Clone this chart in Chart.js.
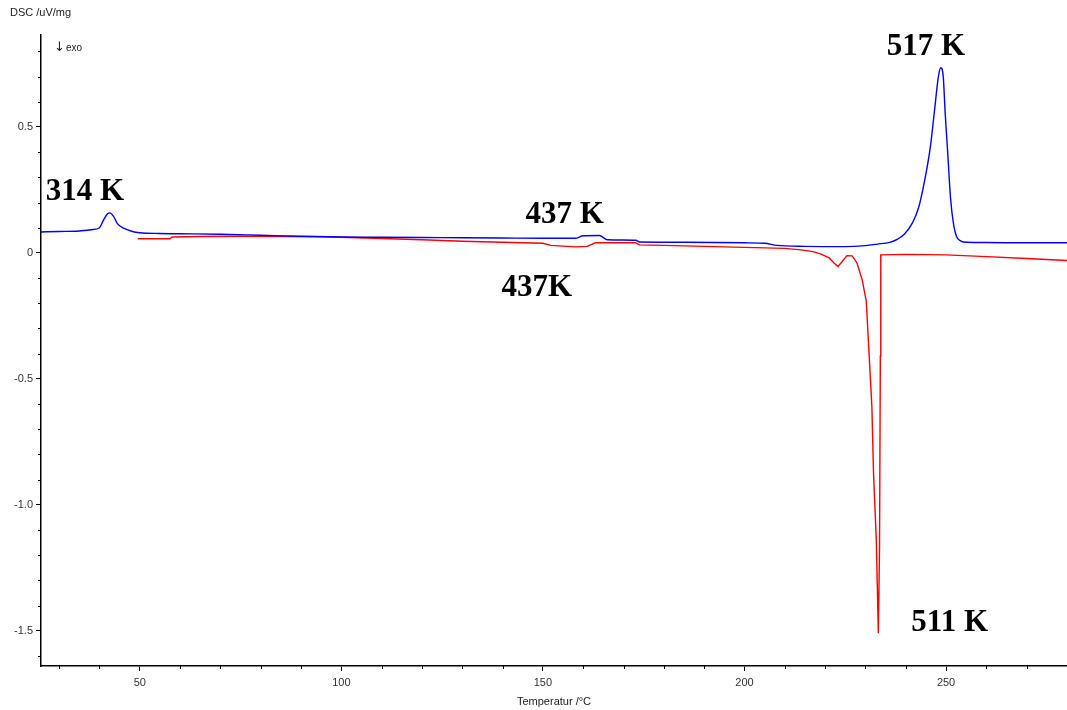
<!DOCTYPE html>
<html>
<head>
<meta charset="utf-8">
<script src="https://cdn.jsdelivr.net/npm/chart.js@4"></script>
<style>
  body { margin: 0; background: #fff; }
  #graph { display: block; }
</style>
</head>
<body>
<canvas id="graph" width="1067" height="710"></canvas>
<script>
// heating run (blue)
const heatTemp = [25.5, 30, 35, 38, 40, 41, 42, 42.6, 43.5, 44.5, 46, 48, 50, 55, 60, 70, 80, 90, 100, 110, 120, 130, 140, 150, 158,
  160, 164, 166, 173, 174, 185, 200, 205, 208, 215, 225, 230, 233, 236, 238, 239.7, 241.7, 243.2, 244.6, 246.1, 247.1, 248.1, 248.7,
  249.3, 249.8, 250.4, 251.1, 251.8, 252.6, 253.6, 255.1, 260, 270, 280];
const heatDsc = [0.083, 0.085, 0.087, 0.092, 0.100, 0.130, 0.155, 0.159, 0.145, 0.115, 0.098, 0.086, 0.080, 0.077, 0.076, 0.074, 0.070, 0.066, 0.063, 0.062, 0.061, 0.060, 0.059, 0.058, 0.058,
  0.068, 0.069, 0.052, 0.050, 0.043, 0.042, 0.040, 0.038, 0.030, 0.026, 0.025, 0.029, 0.035, 0.042, 0.055, 0.075, 0.12, 0.18, 0.28, 0.42, 0.56, 0.70, 0.735,
  0.70, 0.55, 0.40, 0.22, 0.12, 0.065, 0.048, 0.042, 0.041, 0.040, 0.040];

// cooling run (red)
const coolTemp = [49.5, 57.5, 58, 65, 75, 85, 95, 100, 110, 120, 130, 140, 150, 152, 158, 161, 163, 173, 174, 180, 190, 200, 210, 214, 217,
  219, 221, 222.2, 223.2, 224.2, 225.4, 226.7, 227.9, 229.2, 230.2, 230.7, 231.6, 232.0, 232.7, 233.2, 233.5, 233.7, 233.8, 240, 250, 260, 270, 280];
const coolDsc = [0.056, 0.056, 0.063, 0.065, 0.066, 0.065, 0.064, 0.062, 0.057, 0.052, 0.046, 0.042, 0.038, 0.030, 0.024, 0.026, 0.040, 0.040, 0.032, 0.030, 0.026, 0.022, 0.018, 0.012, 0.005,
  -0.005, -0.020, -0.040, -0.054, -0.035, -0.011, -0.012, -0.040, -0.107, -0.19, -0.34, -0.61, -0.87, -1.14, -1.51, -1.17, -0.41, -0.008, -0.006, -0.008, -0.015, -0.022, -0.030];

const xTicks = [50, 100, 150, 200, 250];
const yTicks = [-1.5, -1.0, -0.5, 0, 0.5];

// peak labels
const peakText = ['314 K', '437 K', '437K', '517 K', '511 K'];
const peakTemp = [36.4, 155.4, 148.5, 245.0, 250.9];
const peakDsc = [0.242, 0.151, -0.139, 0.817, -1.468];

const toPoints = (xs, ys) => xs.map((t, i) => ({x: t, y: ys[i]}));

const minorTicks = {
    id: 'minorTicks',
    afterDraw: (chart) => {
        const {ctx} = chart;
        const x = chart.scales.x, y = chart.scales.y;
        ctx.save();
        ctx.strokeStyle = '#000';
        ctx.lineWidth = 1;
        for (let t = 30; t <= 280; t += 10) {
            if (t % 50 === 0) continue;
            const px = Math.round(x.getPixelForValue(t)) + 0.5;
            ctx.beginPath();
            ctx.moveTo(px, x.top);
            ctx.lineTo(px, x.top + 3);
            ctx.stroke();
        }
        for (let v = -16; v <= 8; v++) {
            if (v % 5 === 0) continue;
            const py = Math.round(y.getPixelForValue(v / 10)) + 0.5;
            ctx.beginPath();
            ctx.moveTo(y.right, py);
            ctx.lineTo(y.right - 3, py);
            ctx.stroke();
        }
        ctx.restore();
    }
};

const peakLabels = {
    id: 'peakLabels',
    afterDatasetsDraw: (chart) => {
        const {ctx} = chart;
        const x = chart.scales.x, y = chart.scales.y;
        ctx.save();
        ctx.fillStyle = '#000';
        ctx.font = 'bold 31px "Liberation Serif", "Times New Roman", serif';
        ctx.textAlign = 'center';
        ctx.textBaseline = 'middle';
        peakText.forEach((txt, i) => {
            ctx.fillText(txt, x.getPixelForValue(peakTemp[i]), y.getPixelForValue(peakDsc[i]));
        });
        // unit label and exo direction
        ctx.font = '11px "Liberation Sans", Arial, sans-serif';
        ctx.fillStyle = '#222';
        ctx.textAlign = 'left';
        ctx.fillText('DSC /uV/mg', 10, 13);
        ctx.font = '13px "DejaVu Sans", sans-serif';
        ctx.fillText('\u2193', 54, 48);
        ctx.font = '10px "Liberation Sans", Arial, sans-serif';
        ctx.fillText('exo', 66, 48);
        ctx.restore();
    }
};

const tickFont = {family: '"Liberation Sans", Arial, sans-serif', size: 11};

new Chart(document.getElementById('graph'), {
    type: 'scatter',
    data: {
        datasets: [{
            label: 'heating',
            data: toPoints(heatTemp, heatDsc),
            showLine: true,
            borderColor: '#0000ff',
            borderWidth: 1.4,
            pointRadius: 0,
            cubicInterpolationMode: 'monotone'
        }, {
            label: 'cooling',
            data: toPoints(coolTemp, coolDsc),
            showLine: true,
            borderColor: '#ff0000',
            borderWidth: 1.4,
            pointRadius: 0,
            tension: 0
        }]
    },
    options: {
        responsive: false,
        animation: false,
        layout: {padding: {top: 35, left: 0, right: 0, bottom: 0}},
        plugins: {
            legend: {display: false},
            tooltip: {enabled: false}
        },
        scales: {
            x: {
                type: 'linear',
                min: 25.5,
                max: 280,
                border: {display: true, color: '#000', width: 1.5},
                grid: {drawOnChartArea: false, tickLength: 5, color: '#000'},
                afterBuildTicks: (scale) => { scale.ticks = xTicks.map(v => ({value: v})); },
                afterFit: (scale) => { scale.height = 44; },
                ticks: {font: tickFont, color: '#333', padding: 5, maxRotation: 0, callback: v => v},
                title: {display: true, text: 'Temperatur /\u00B0C', font: {family: tickFont.family, size: 11}, color: '#222', padding: {top: 0, bottom: 1}}
            },
            y: {
                type: 'linear',
                min: -1.64,
                max: 0.865,
                border: {display: true, color: '#000', width: 1.5},
                grid: {drawOnChartArea: false, tickLength: 5, color: '#000'},
                afterBuildTicks: (scale) => { scale.ticks = yTicks.map(v => ({value: v})); },
                afterFit: (scale) => { scale.width = 41; },
                ticks: {font: tickFont, color: '#333', padding: 3, callback: v => (v === 0 ? '0' : v.toFixed(1))}
            }
        }
    },
    plugins: [minorTicks, peakLabels]
});
</script>
</body>
</html>
